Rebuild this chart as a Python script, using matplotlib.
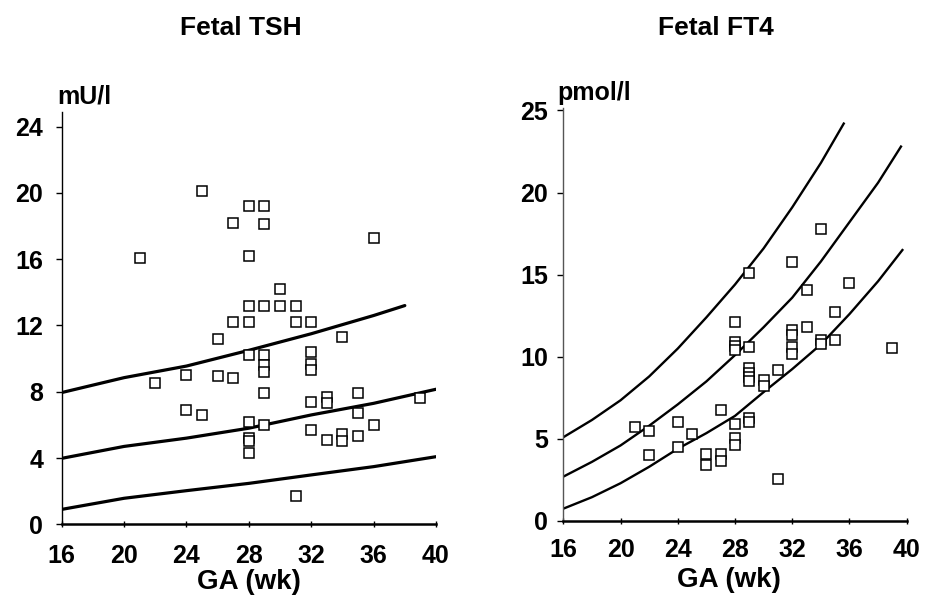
import matplotlib
matplotlib.use("Agg")
import matplotlib.pyplot as plt

plt.rcParams['font.family'] = ['Liberation Sans', 'DejaVu Sans']
plt.rcParams['font.weight'] = 'bold'

# ---------------- data: Fetal TSH ----------------
tsh_ga = [21, 25, 28, 29, 27, 29, 28, 36, 30, 28,
          29, 30, 31, 27, 28, 31, 32, 26, 34, 28,
          29, 32, 29, 29, 32, 32, 24, 26, 27, 22,
          29, 24, 25, 32, 33, 33, 35, 35, 39, 28,
          29, 36, 28, 28, 28, 32, 33, 34, 34, 35,
          31]
tsh_val = [16.1, 20.1, 19.2, 19.2, 18.2, 18.1, 16.2, 17.3, 14.2, 13.2,
           13.2, 13.2, 13.2, 12.2, 12.2, 12.2, 12.2, 11.2, 11.3, 10.2,
           10.2, 10.4, 9.6, 9.2, 9.7, 9.3, 9.0, 8.95, 8.8, 8.5,
           7.9, 6.9, 6.6, 7.4, 7.7, 7.3, 7.9, 6.7, 7.6, 6.2,
           6.0, 6.0, 5.2, 5.0, 4.3, 5.7, 5.1, 5.45, 5.0, 5.35,
           1.7]

tsh_upper_ga = [16, 20, 24, 28, 32, 36, 38]
tsh_upper = [7.95, 8.85, 9.55, 10.5, 11.5, 12.6, 13.2]
tsh_mid_ga = [16, 20, 24, 28, 32, 36, 40]
tsh_mid = [3.98, 4.7, 5.2, 5.8, 6.6, 7.3, 8.15]
tsh_low_ga = [16, 20, 24, 28, 32, 36, 40]
tsh_low = [0.9, 1.57, 2.03, 2.47, 2.98, 3.48, 4.08]

# ---------------- data: Fetal FT4 ----------------
ft4_ga = [21, 22, 22, 24, 24, 25, 26, 26, 27, 27, 27,
          28, 28, 28, 28, 28, 28, 28,
          29, 29, 29, 29, 29, 29, 29, 29,
          30, 30, 31, 31,
          32, 32, 32, 32, 32, 33, 33, 34, 34, 34, 35, 35, 36, 39]
ft4_val = [5.75, 5.5, 4.0, 6.05, 4.5, 5.3, 4.1, 3.4, 6.75, 4.1, 3.65,
           12.1, 10.9, 10.65, 10.4, 5.9, 5.05, 4.65,
           15.1, 10.6, 9.3, 9.0, 8.75, 8.5, 6.3, 6.05,
           8.6, 8.25, 9.2, 2.55,
           15.8, 11.6, 11.3, 10.6, 10.15, 14.05, 11.8, 17.8, 11.0, 10.75,
           12.7, 11.05, 14.5, 10.55]

ft4_upper_ga = [16, 18, 20, 22, 24, 26, 28, 30, 32, 34, 35.6]
ft4_upper = [5.1, 6.15, 7.35, 8.8, 10.5, 12.4, 14.4, 16.6, 19.1, 21.8, 24.2]
ft4_mid_ga = [16, 18, 20, 22, 24, 26, 28, 30, 32, 34, 36, 38, 39.6]
ft4_mid = [2.7, 3.6, 4.6, 5.8, 7.1, 8.5, 10.1, 11.8, 13.6, 15.8, 18.2, 20.6, 22.8]
ft4_low_ga = [16, 18, 20, 22, 24, 26, 28, 30, 32, 34, 36, 38, 39.7]
ft4_low = [0.75, 1.45, 2.3, 3.3, 4.4, 5.35, 6.4, 7.85, 9.25, 10.75, 12.6, 14.6, 16.5]

xticks = [16, 20, 24, 28, 32, 36, 40]
tsh_yticks = [0, 4, 8, 12, 16, 20, 24]
ft4_yticks = [0, 5, 10, 15, 20, 25]

W, H = 928, 604
fig = plt.figure(figsize=(W / 100, H / 100), dpi=100)
fig.patch.set_facecolor('white')

TICK_FS = 18
marker_kw = dict(linestyle='none', marker='s', markersize=6.5,
                 markerfacecolor='white', markeredgecolor='black',
                 markeredgewidth=1.1, zorder=3)


def style(ax, yticks, ylim, xpad, ypad):
    ax.set_xlim(16, 40)
    ax.set_ylim(*ylim)
    ax.set_xticks(xticks)
    ax.set_yticks(yticks)
    for s in ['top', 'right']:
        ax.spines[s].set_visible(False)
    ax.spines['bottom'].set_linewidth(1.8)
    ax.spines['left'].set_linewidth(1.0)
    ax.tick_params(axis='both', labelsize=TICK_FS, width=1.0, length=4,
                   direction='out', colors='black')
    ax.tick_params(axis='x', pad=xpad, direction='inout', length=5)
    ax.tick_params(axis='y', pad=ypad)
    for lab in ax.get_xticklabels() + ax.get_yticklabels():
        lab.set_fontweight('bold')
    ax.patch.set_alpha(0)


# ---- left panel ----
axL = fig.add_axes([61.7 / W, 1 - 524.3 / H, 374.3 / W, (524.3 - 111.7) / H])
style(axL, tsh_yticks, (0, 24.9), xpad=12, ypad=9.3)
axL.plot(tsh_upper_ga, tsh_upper, color='black', lw=2.3, solid_capstyle='round')
axL.plot(tsh_mid_ga, tsh_mid, color='black', lw=2.3, solid_capstyle='round')
axL.plot(tsh_low_ga, tsh_low, color='black', lw=2.3, solid_capstyle='round')
axL.plot(tsh_ga, tsh_val, **marker_kw)

# ---- right panel ----
axR = fig.add_axes([563.3 / W, 1 - 521 / H, 343.4 / W, (521 - 108.3) / H])
style(axR, ft4_yticks, (0, 25.13), xpad=9.5, ypad=6.8)
axR.spines['left'].set_color('#555555')
axR.plot(ft4_upper_ga, ft4_upper, color='black', lw=1.7)
axR.plot(ft4_mid_ga, ft4_mid, color='black', lw=1.7)
axR.plot(ft4_low_ga, ft4_low, color='black', lw=1.7)
axR.plot(ft4_ga, ft4_val, **marker_kw)

# ---- axis labels, titles & units ----
fig.text(249 / W, 1 - 582 / H, 'GA (wk)', ha='center', va='center',
         fontsize=20, fontweight='bold')
fig.text(729 / W, 1 - 580 / H, 'GA (wk)', ha='center', va='center',
         fontsize=20, fontweight='bold')
fig.text(241 / W, 1 - 28 / H, 'Fetal TSH', ha='center', va='center',
         fontsize=19, fontweight='bold')
fig.text(716 / W, 1 - 28 / H, 'Fetal FT4', ha='center', va='center',
         fontsize=19, fontweight='bold')
fig.text(57 / W, 1 - 103 / H, 'mU/l', ha='left', va='baseline',
         fontsize=18, fontweight='bold')
fig.text(557 / W, 1 - 100 / H, 'pmol/l', ha='left', va='baseline',
         fontsize=18, fontweight='bold')

fig.savefig('out.png', dpi=100, facecolor='white')
